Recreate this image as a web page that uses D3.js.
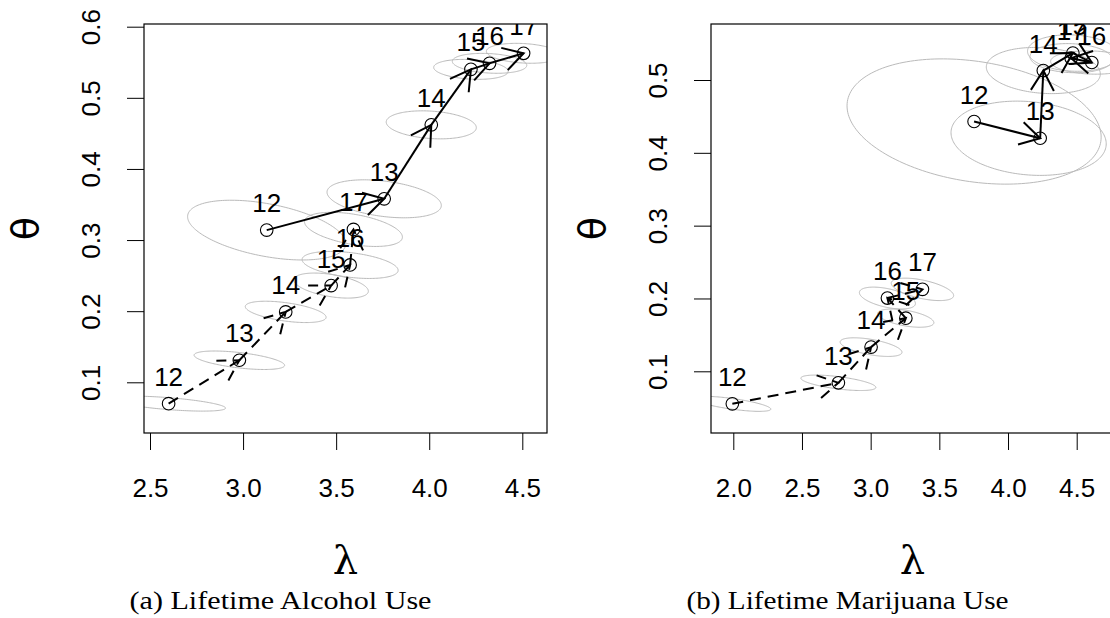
<!DOCTYPE html>
<html><head><meta charset="utf-8">
<script src="https://cdn.jsdelivr.net/npm/d3@7"></script>
<style>html,body{margin:0;padding:0;background:#fff;}</style>
</head><body>
<script>
// ---------- data ----------
const ages = [12, 13, 14, 15, 16, 17];

// (a) Lifetime Alcohol Use
const alcLamSolid = [3.127, 3.758, 4.011, 4.224, 4.324, 4.507];
const alcThSolid  = [0.314, 0.358, 0.462, 0.540, 0.5485, 0.5626];
const alcSeLamSolid = [0.425, 0.307, 0.242, 0.200, 0.200, 0.200];
const alcSeThSolid  = [0.042, 0.0267, 0.0197, 0.014, 0.014, 0.014];
const alcRhoSolid   = [-0.45, -0.35, -0.2, -0.2, -0.2, -0.2];

const alcLamDash = [2.600, 2.980, 3.229, 3.473, 3.575, 3.593];
const alcThDash  = [0.070, 0.131, 0.199, 0.236, 0.265, 0.315];
const alcSeLamDash = [0.306, 0.243, 0.217, 0.200, 0.258, 0.263];
const alcSeThDash  = [0.0105, 0.013, 0.015, 0.0176, 0.019, 0.024];
const alcRhoDash   = [-0.6, -0.55, -0.5, -0.45, -0.4, -0.45];

// (b) Lifetime Marijuana Use
const mjLamSolid = [3.753, 4.234, 4.257, 4.472, 4.610, 4.460];
const mjThSolid  = [0.443, 0.420, 0.513, 0.537, 0.524, 0.530];
const mjEllLamSolid = [3.753, 4.150, 4.257, 4.472, 4.610, 4.460];
const mjSeLamSolid = [0.925, 0.565, 0.415, 0.330, 0.300, 0.300];
const mjSeThSolid  = [0.086, 0.051, 0.0317, 0.025, 0.016, 0.020];
const mjRhoSolid   = [-0.25, -0.15, -0.15, -0.1, -0.1, -0.1];

const mjLamDash = [1.993, 2.765, 3.003, 3.256, 3.122, 3.377];
const mjThDash  = [0.0553, 0.0842, 0.1332, 0.173, 0.2006, 0.2125];
const mjSeLamDash = [0.280, 0.273, 0.225, 0.204, 0.204, 0.227];
const mjSeThDash  = [0.0103, 0.0106, 0.0128, 0.0125, 0.015, 0.0154];
const mjRhoDash   = [-0.7, -0.6, -0.55, -0.5, -0.5, -0.55];

const alcXTicks = [2.5, 3.0, 3.5, 4.0, 4.5];
const alcYTicks = [0.1, 0.2, 0.3, 0.4, 0.5, 0.6];
const mjXTicks  = [2.0, 2.5, 3.0, 3.5, 4.0, 4.5];
const mjYTicks  = [0.1, 0.2, 0.3, 0.4, 0.5];
const captions = ["(a) Lifetime Alcohol Use", "(b) Lifetime Marijuana Use"];

// ---------- build ----------
function mk(lam, th, a, b, r, ellLam) {
  return ages.map((age, i) => ({age, lam: lam[i], th: th[i], a: a[i], b: b[i], rho: r[i],
    cl: ellLam ? ellLam[i] : lam[i]}));
}

const panels = [
  { box: [144, 547, 24, 433],
    x: d3.scaleLinear().domain([2.5, 4.5]).range([150, 522.3]),
    y: d3.scaleLinear().domain([0.1, 0.6]).range([382.3, 26.7]),
    xt: alcXTicks, yt: alcYTicks, cap: captions[0],
    series: [
      {pts: mk(alcLamSolid, alcThSolid, alcSeLamSolid, alcSeThSolid, alcRhoSolid), dash: null},
      {pts: mk(alcLamDash, alcThDash, alcSeLamDash, alcSeThDash, alcRhoDash), dash: "11,7"}
    ]},
  { box: [711, 1114, 24, 433],
    x: d3.scaleLinear().domain([2.0, 4.5]).range([733.3, 1076.7]),
    y: d3.scaleLinear().domain([0.1, 0.5]).range([371.3, 80]),
    xt: mjXTicks, yt: mjYTicks, cap: captions[1],
    series: [
      {pts: mk(mjLamSolid, mjThSolid, mjSeLamSolid, mjSeThSolid, mjRhoSolid, mjEllLamSolid), dash: null},
      {pts: mk(mjLamDash, mjThDash, mjSeLamDash, mjSeThDash, mjRhoDash), dash: "11,7"}
    ]}
];

const svg = d3.select("body").append("svg").attr("width", 1110).attr("height", 618)
  .style("display", "block");
svg.append("rect").attr("width", 1110).attr("height", 618).attr("fill", "#fff");

const tickFs = 26;
panels.forEach((P, pi) => {
  const [bx0, bx1, by0, by1] = P.box;
  const g = svg.append("g");
  const clipId = "clip" + pi;
  g.append("clipPath").attr("id", clipId).append("rect")
    .attr("x", bx0).attr("y", by0).attr("width", bx1 - bx0).attr("height", by1 - by0);
  const inner = g.append("g").attr("clip-path", `url(#${clipId})`);

  // ellipses
  const ts = d3.range(0, 2 * Math.PI, Math.PI / 90);
  const ellLine = d3.line().curve(d3.curveLinearClosed);
  P.series.forEach(s => {
    s.pts.forEach(p => {
      const pts = ts.map(t => {
        const L = p.cl + p.a * Math.cos(t);
        const T = p.th + p.b * (p.rho * Math.cos(t) + Math.sqrt(1 - p.rho * p.rho) * Math.sin(t));
        return [P.x(L), P.y(T)];
      });
      inner.append("path").attr("d", ellLine(pts)).attr("fill", "none")
        .attr("stroke", "#bababa").attr("stroke-width", 1);
    });
  });

  // arrows
  P.series.forEach(s => {
    for (let i = 0; i < s.pts.length - 1; i++) {
      const p0 = s.pts[i], p1 = s.pts[i + 1];
      const x0 = P.x(p0.lam), y0 = P.y(p0.th), x1 = P.x(p1.lam), y1 = P.y(p1.th);
      const ang = Math.atan2(y1 - y0, x1 - x0);
      const L = 23, da = Math.PI / 6;
      const b1 = [x1 - L * Math.cos(ang - da), y1 - L * Math.sin(ang - da)];
      const b2 = [x1 - L * Math.cos(ang + da), y1 - L * Math.sin(ang + da)];
      const st = sel => sel.attr("fill", "none").attr("stroke", "#000").attr("stroke-width", 2)
        .attr("stroke-dasharray", s.dash);
      inner.append("path").attr("d", `M${x0},${y0}L${x1},${y1}`).call(st);
      inner.append("path").attr("d", `M${b1[0]},${b1[1]}L${x1},${y1}L${b2[0]},${b2[1]}`).call(st);
    }
  });

  // points + labels
  P.series.forEach(s => {
    s.pts.forEach(p => {
      inner.append("circle").attr("cx", P.x(p.lam)).attr("cy", P.y(p.th)).attr("r", 6.3)
        .attr("fill", "none").attr("stroke", "#000").attr("stroke-width", 1.1);
    });
    s.pts.forEach(p => {
      inner.append("text").attr("x", P.x(p.lam)).attr("y", P.y(p.th) - 18)
        .attr("text-anchor", "middle").attr("font-family", "Liberation Sans, Arial, sans-serif")
        .attr("font-size", 26).attr("fill", "#000").text(p.age);
    });
  });

  // box
  g.append("rect").attr("x", bx0).attr("y", by0).attr("width", bx1 - bx0).attr("height", by1 - by0)
    .attr("fill", "none").attr("stroke", "#000").attr("stroke-width", 1.2);

  // x axis
  const xa = d3.axisBottom(P.x).tickValues(P.xt).tickSize(17).tickPadding(29)
    .tickFormat(d3.format(".1f"));
  const xg = g.append("g").attr("transform", `translate(0,${by1})`).call(xa);
  xg.select(".domain").remove();
  xg.selectAll("line").attr("stroke", "#000").attr("stroke-width", 1);
  xg.selectAll("text").attr("font-family", "Liberation Sans, Arial, sans-serif")
    .attr("font-size", tickFs).attr("fill", "#000");

  // y axis
  const ya = d3.axisLeft(P.y).tickValues(P.yt).tickSize(17).tickFormat(d3.format(".1f"));
  const yg = g.append("g").attr("transform", `translate(${bx0},0)`).call(ya);
  yg.select(".domain").remove();
  yg.selectAll("line").attr("stroke", "#000").attr("stroke-width", 1);
  yg.selectAll("text").remove();
  yg.selectAll(".tick").append("text")
    .attr("transform", `translate(${-44.5},0) rotate(-90)`)
    .attr("text-anchor", "middle").attr("fill", "#000")
    .attr("font-family", "Liberation Sans, Arial, sans-serif").attr("font-size", tickFs)
    .text(d => d3.format(".1f")(d));

  // axis titles
  const cx = (bx0 + bx1) / 2, cy = (by0 + by1) / 2;
  g.append("text").attr("x", cx).attr("y", 574).attr("text-anchor", "middle")
    .attr("font-family", "DejaVu Serif, Liberation Serif, serif").attr("font-size", 40)
    .attr("fill", "#000").text("λ");
  g.append("text").attr("transform", `translate(${bx0 - 106},${cy}) rotate(-90)`)
    .attr("text-anchor", "middle")
    .attr("font-family", "DejaVu Sans, Liberation Sans, sans-serif").attr("font-size", 38)
    .attr("fill", "#000").text("θ");

  // caption
  g.append("text").attr("x", cx - 65).attr("y", 609).attr("text-anchor", "middle")
    .attr("font-family", "Liberation Serif, Times New Roman, serif").attr("font-size", 25)
    .attr("textLength", pi === 0 ? 302 : 322).attr("lengthAdjust", "spacingAndGlyphs")
    .attr("fill", "#000").text(P.cap);
});
</script>
</body></html>
